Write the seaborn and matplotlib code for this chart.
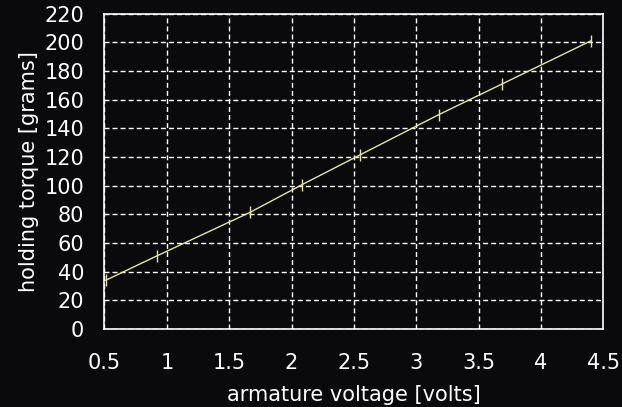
import matplotlib
matplotlib.use("Agg")
import matplotlib.pyplot as plt
import seaborn as sns
import pandas as pd
from matplotlib.ticker import MultipleLocator

voltage = [0.51, 0.92, 1.67, 2.08, 2.55, 3.18, 3.69, 4.40]
torque = [34, 51, 81.5, 100.5, 121.5, 149.5, 171, 201]

x_ticks = [0.5, 1, 1.5, 2, 2.5, 3, 3.5, 4, 4.5]
x_tick_labels = ["0.5", "1", "1.5", "2", "2.5", "3", "3.5", "4", "4.5"]
y_ticks = list(range(0, 221, 20))

bg = "#0a0a0c"
fg = "white"

sns.set_style("dark", {
    "axes.facecolor": bg,
    "figure.facecolor": bg,
    "axes.edgecolor": fg,
    "text.color": fg,
    "axes.labelcolor": fg,
    "xtick.color": fg,
    "ytick.color": fg,
})
plt.rcParams["font.family"] = ["DejaVu Sans"]

df = pd.DataFrame({"voltage": voltage, "torque": torque})

fig = plt.figure(figsize=(6.22, 4.07), dpi=100)
ax = fig.add_axes([0.168, 0.1916, 0.802, 0.775])

sns.lineplot(data=df, x="voltage", y="torque", ax=ax, color="#e6e69a",
             linewidth=1, marker="|", markersize=9, markeredgewidth=1,
             markeredgecolor="#e6e69a")

ax.set_xlim(0.5, 4.5)
ax.set_ylim(0, 220)
ax.set_xticks(x_ticks)
ax.set_xticklabels(x_tick_labels)
ax.set_yticks(y_ticks)
ax.xaxis.set_minor_locator(MultipleLocator(0.25))
ax.yaxis.set_minor_locator(MultipleLocator(10))

ax.grid(True, which="major", color=fg, linestyle=(0, (3.6, 2.2)), linewidth=1)
for s in ax.spines.values():
    s.set_color(fg)
    s.set_linewidth(1.2)

ax.tick_params(axis="x", which="major", direction="in", length=6, width=1,
               labelsize=15, pad=17, top=False)
ax.tick_params(axis="x", which="minor", direction="in", length=3, width=1)
ax.tick_params(axis="y", which="major", direction="inout", length=9, width=1,
               labelsize=15, pad=10, right=False)
ax.tick_params(axis="y", which="minor", direction="inout", length=6, width=1)

ax.set_xlabel("armature voltage [volts]", fontsize=15, labelpad=9)
ax.set_ylabel("holding torque [grams]", fontsize=15, labelpad=4)

fig.savefig("out.png", dpi=100, facecolor=bg)
